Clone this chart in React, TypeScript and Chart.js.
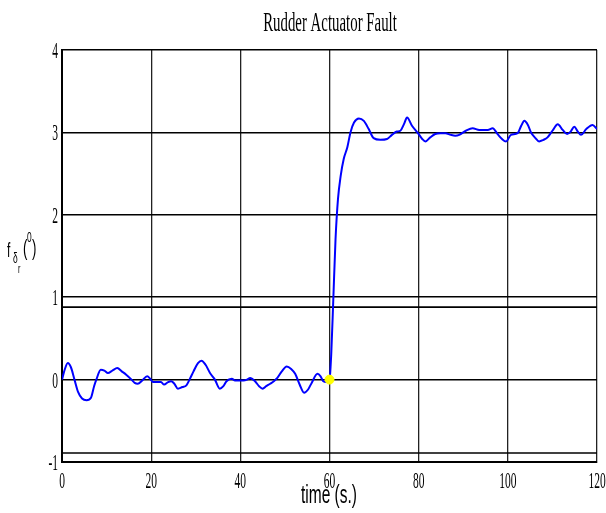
import React, { useEffect, useRef } from "react";
import { Chart, registerables } from "chart.js";

Chart.register(...registerables);

const TITLE = "Rudder Actuator Fault";
const X_LABEL = "time (s.)";
const X_TICKS = [0, 20, 40, 60, 80, 100, 120];
const Y_TICKS = [-1, 0, 1, 2, 3, 4];

const timeValues = [
  0, 0.6, 1.3, 2.0, 2.8, 3.6, 4.5, 5.5, 6.5, 7.2, 7.7, 8.7, 9.5, 10.3, 11.3, 12.4, 13.4, 14.4, 15.6,
  16.3, 17.0, 18.0, 19.1, 19.8, 20.4, 21.5, 22.2, 22.9, 23.8, 24.5, 25.2, 26.0, 27.0, 27.9, 28.6,
  29.5, 30.5, 31.3, 32.2, 33.2, 34.3, 35.4, 36.2, 36.9, 38.1, 38.8, 39.8, 40.7, 41.5, 42.2, 43.3,
  44.2, 45.0, 45.8, 46.7, 47.5, 48.3, 49.3, 50.4, 51.4, 52.3, 53.3, 54.3, 55.2, 56.0, 57.3, 58.0,
  58.6, 59.3, 60, 60.4, 60.85, 61.35, 61.9, 62.5, 63.2, 64.0, 64.7, 65.5, 66.6, 67.7, 68.8, 69.9,
  71.4, 72.9, 74.0, 75.1, 75.9, 76.7, 77.4, 78.5, 80.0, 80.8, 81.5, 82.6, 83.7, 84.9, 86.0, 87.2,
  88.2, 89.1, 90.6, 92.1, 93.6, 94.7, 95.5, 96.6, 97.7, 98.7, 99.6, 100.7, 102.2, 103.0, 103.7,
  104.5, 105.2, 106.2, 107.0, 108.0, 108.9, 110.0, 111.2, 112.3, 113.3, 114.1, 114.9, 115.7, 116.4,
  117.6, 119.0, 120,
];

const faultValues = [
  0, 0.12, 0.2, 0.15, 0, -0.15, -0.23, -0.25, -0.22, -0.08, 0, 0.12, 0.11, 0.08, 0.11, 0.14, 0.1, 0.06, 0,
  -0.04, -0.05, -0.01, 0.04, 0.01, -0.03, -0.03, -0.03, -0.06, -0.03, -0.02, -0.05, -0.11, -0.09, -0.07, 0.0,
  0.1, 0.2, 0.23, 0.18, 0.08, 0, -0.11, -0.08, -0.02, 0.01, -0.01, -0.01, -0.01, 0.0, 0.02, -0.02,
  -0.08, -0.11, -0.08, -0.05, -0.02, 0.02, 0.1, 0.16, 0.13, 0.07, -0.06, -0.16, -0.12, -0.04, 0.07, 0.04,
  -0.02, -0.03, 0, 0.32, 0.97, 1.7, 2.19, 2.47, 2.68, 2.82, 3.0, 3.12, 3.17, 3.14, 3.04, 2.93,
  2.91, 2.92, 2.97, 3.01, 3.02, 3.1, 3.18, 3.08, 2.98, 2.92, 2.89, 2.94, 2.98, 2.99, 2.99, 2.97,
  2.96, 2.97, 3.02, 3.05, 3.03, 3.03, 3.03, 3.05, 2.98, 2.92, 2.89, 2.97, 2.99, 3.08, 3.14,
  3.09, 3.0, 2.93, 2.89, 2.91, 2.94, 3.02, 3.1, 3.03, 2.98, 3.01, 3.07, 3.01, 2.97,
  3.04, 3.09, 3.04,
];

const faultOnsetTime = [60];
const faultOnsetValue = [0];

// extra horizontal reference lines visible in the figure
const refLineLevels = [0.88, -0.89];
const refLineSpan = [0, 120];

function drawText(
  ctx: CanvasRenderingContext2D,
  text: string,
  x: number,
  y: number,
  font: string,
  align: CanvasTextAlign,
  sx: number
) {
  ctx.save();
  ctx.translate(x, y);
  ctx.scale(sx, 1);
  ctx.font = font;
  ctx.textAlign = align;
  ctx.textBaseline = "alphabetic";
  ctx.fillStyle = "#000";
  ctx.fillText(text, 0, 0);
  ctx.restore();
}

const textPlugin = {
  id: "textPlugin",
  afterDraw(chart: any) {
    const ctx: CanvasRenderingContext2D = chart.ctx;
    const xs = chart.scales.x;
    const ys = chart.scales.y;
    const serif = "'Liberation Serif', 'DejaVu Serif', serif";
    const sans = "'Liberation Sans', Arial, sans-serif";
    // title
    drawText(ctx, TITLE, 330, 31, `27px ${serif}`, "center", 0.55);
    // y ticks
    Y_TICKS.forEach((v) => {
      const py = ys.getPixelForValue(v);
      drawText(ctx, String(v), 58, py + 8, `23px ${serif}`, "right", 0.5);
    });
    // x ticks
    X_TICKS.forEach((v) => {
      const px = xs.getPixelForValue(v);
      drawText(ctx, String(v), px, 488, `23px ${serif}`, "center", 0.5);
    });
    // x label
    drawText(ctx, X_LABEL, 329, 503, `25px ${sans}`, "center", 0.62);
    // y label f_{δ r} (°)
    drawText(ctx, "f", 7, 257, `20px ${sans}`, "left", 0.6);
    drawText(ctx, "δ", 13, 263, `14px ${sans}`, "left", 0.6);
    drawText(ctx, "r", 18, 273, `12px ${sans}`, "left", 0.6);
    drawText(ctx, "(", 23, 255, `22px ${sans}`, "left", 0.6);
    drawText(ctx, "0", 27, 242, `14px ${sans}`, "left", 0.6);
    drawText(ctx, ")", 32, 255, `22px ${sans}`, "left", 0.6);
  },
};

export default function App() {
  const ref = useRef<HTMLCanvasElement | null>(null);

  useEffect(() => {
    if (!ref.current) return;
    const mainData = timeValues.map((t, i) => ({ x: t, y: faultValues[i] }));
    const refDatasets = refLineLevels.map((lvl) => ({
      type: "line" as const,
      data: refLineSpan.map((t) => ({ x: t, y: lvl })),
      borderColor: "#000",
      borderWidth: 1.6,
      pointRadius: 0,
      order: 3,
    }));
    const chart = new Chart(ref.current, {
      type: "line",
      data: {
        datasets: [
          ...refDatasets,
          {
            type: "line",
            data: mainData,
            borderColor: "#0000ff",
            borderWidth: 2,
            pointRadius: 0,
            cubicInterpolationMode: "monotone",
            order: 2,
          },
          {
            type: "scatter",
            data: faultOnsetTime.map((t, i) => ({ x: t, y: faultOnsetValue[i] })),
            backgroundColor: "#ffff00",
            borderColor: "#ffff00",
            pointRadius: 4.5,
            order: 1,
          } as any,
        ],
      },
      options: {
        responsive: false,
        animation: false,
        layout: { padding: { left: 62, right: 9, top: 50, bottom: 51 } },
        plugins: {
          legend: { display: false },
          title: { display: false },
          tooltip: { enabled: false },
        },
        scales: {
          x: {
            type: "linear",
            min: 0,
            max: 120,
            ticks: { display: false, stepSize: 20 },
            grid: { color: "#222", lineWidth: 1.3, drawTicks: false },
            border: { display: true, color: "#000", width: 2 },
          },
          y: {
            type: "linear",
            min: -1,
            max: 4,
            ticks: { display: false, stepSize: 1 },
            grid: { color: "#000", lineWidth: 1.6, drawTicks: false },
            border: { display: true, color: "#000", width: 2 },
          },
        },
      },
      plugins: [textPlugin],
    });
    return () => chart.destroy();
  }, []);

  return (
    <canvas
      ref={ref}
      width={606}
      height={513}
      style={{ position: "fixed", left: 0, top: 0, width: 606, height: 513 }}
    />
  );
}
